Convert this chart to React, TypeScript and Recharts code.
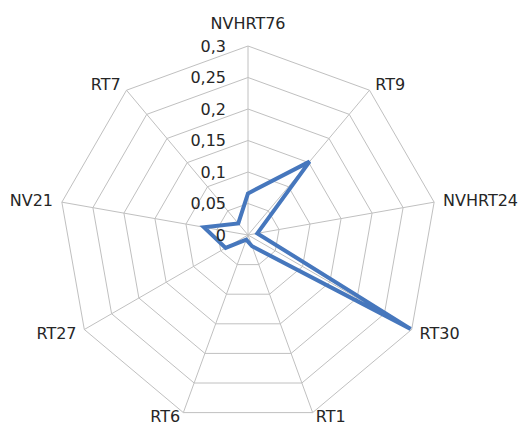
import { RadarChart, Radar, PolarGrid, PolarAngleAxis, PolarRadiusAxis } from 'recharts'

const categories = ['NVHRT76', 'RT9', 'NVHRT24', 'RT30', 'RT1', 'RT6', 'RT27', 'NV21', 'RT7']
const values = [0.066, 0.152, 0.015, 0.298, 0.019, 0.008, 0.041, 0.071, 0.024]
const radiusTicks = [0, 0.05, 0.1, 0.15, 0.2, 0.25, 0.3]

const data = categories.map((name, i) => ({ name, value: values[i] }))

const CX = 248
const CY = 235
const R = 189
const FONT = '"DejaVu Sans", sans-serif'
const TEXT = '#262626'

const fmt = (v: number) => String(v).replace('.', ',')

function AngleTick(props: any) {
  const a = props.payload.coordinate
  const rad = (a * Math.PI) / 180
  const vx = CX + R * Math.cos(rad)
  const vy = CY - R * Math.sin(rad)
  let x = vx + 9 * Math.cos(rad)
  // keep the bottom labels inside the picture
  let y = Math.min(vy - 7 * Math.sin(rad), 416)
  let anchor = Math.cos(rad) > 0.01 ? 'start' : Math.cos(rad) < -0.01 ? 'end' : 'middle'
  if (anchor === 'middle') {
    x = vx
    y = vy - 23
  }
  return (
    <text x={x} y={y} textAnchor={anchor} dominantBaseline="central" fontFamily={FONT} fontSize={16} fill={TEXT}>
      {props.payload.value}
    </text>
  )
}

function RadiusTick(props: any) {
  return (
    <text x={props.x - 22} y={props.y} textAnchor="end" dominantBaseline="central" fontFamily={FONT} fontSize={16} fill={TEXT}>
      {fmt(props.payload.value)}
    </text>
  )
}

export default function App() {
  return (
    <div style={{ position: 'absolute', left: 0, top: 0, background: '#fff' }}>
      <RadarChart width={523} height={426} cx={CX} cy={CY} outerRadius={R} data={data} margin={{ top: 0, right: 0, bottom: 0, left: 0 }}>
        <PolarGrid gridType="polygon" stroke="#c0c0c0" strokeWidth={1} />
        <PolarAngleAxis dataKey="name" tick={AngleTick} tickLine={false} axisLine={false} />
        <PolarRadiusAxis
          angle={90}
          domain={[0, 0.3]}
          ticks={radiusTicks}
          tick={RadiusTick}
          axisLine={false}
          tickLine={false}
        />
        <Radar dataKey="value" stroke="#4677bd" strokeWidth={4} fill="none" fillOpacity={0} dot={false} isAnimationActive={false} />
      </RadarChart>
    </div>
  )
}
